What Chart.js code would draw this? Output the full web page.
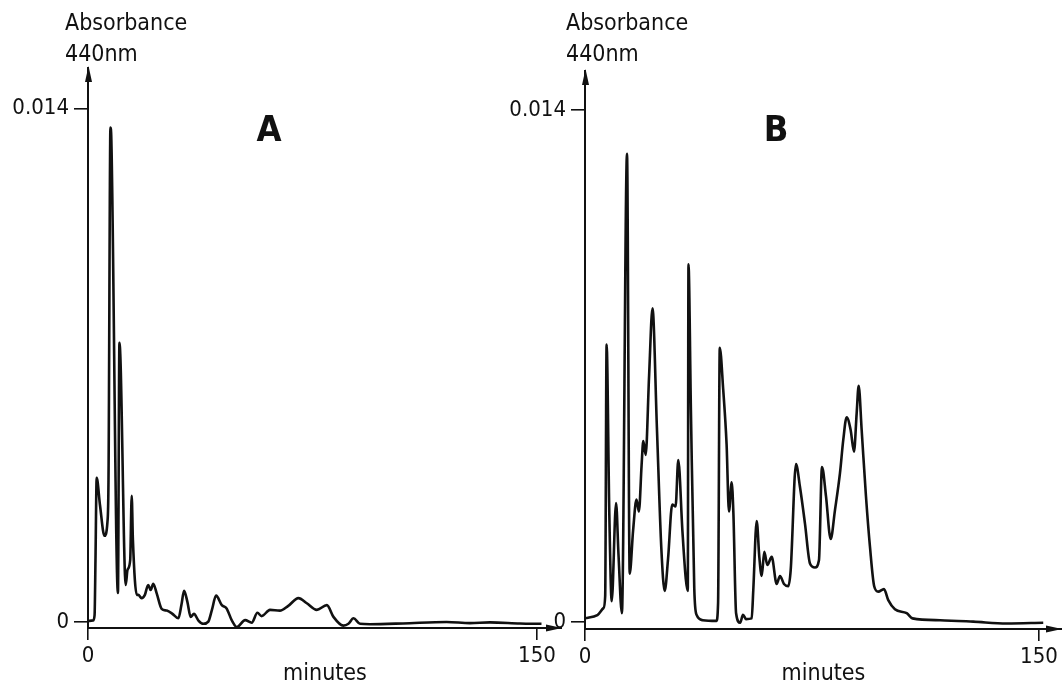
<!DOCTYPE html>
<html>
<head>
<meta charset="utf-8">
<title>Absorbance 440nm</title>
<script src="https://cdn.jsdelivr.net/npm/chart.js@4.4.1/dist/chart.umd.min.js"></script>
<style>
  html, body { margin: 0; padding: 0; background: #fff; }
  #wrap { position: relative; width: 1062px; height: 686px; overflow: hidden; }
  canvas { position: absolute; top: 0; }
  #chartA { left: 0; }
  #chartB { left: 498px; }
</style>
</head>
<body>
<div id="wrap">
  <canvas id="chartA" width="562" height="686"></canvas>
  <canvas id="chartB" width="564" height="686"></canvas>
</div>
<script>
// values (minutes, absorbance at 440 nm)
const timesA = [0, 1.7, 2.2, 2.5, 2.9, 4.0, 5.5, 6.5, 6.85, 7.5, 7.8, 10.0, 10.5, 10.85, 12.6, 13.2, 14.1, 14.6, 15.0, 16.3,
  16.8, 17.9, 19.0, 20.1, 20.95, 21.8, 22.95, 24.6, 26.3, 28.1, 30.2, 31.2, 32.1, 33.2, 34.3, 35.4, 36.9, 38.5, 40.2, 41.4,
  42.8, 44.7, 46.3, 48.0, 49.7, 52.5, 54.7, 56.6, 58.0, 60.8, 64.1, 66.9, 70.3, 73.1, 76.4, 79.8, 82.0, 85.3, 87.0, 88.7,
  90.9, 94.2, 105.2, 119.8, 127.6, 134.3, 144.3, 151.5];
const absA = [0.00003, 0.00004, 0.00019, 0.00169, 0.00393, 0.00319, 0.00235, 0.00273, 0.00388, 0.01348, 0.01315, 0.00079,
  0.00761, 0.00715, 0.00101, 0.00142, 0.00169, 0.00344, 0.00224, 0.00074, 0.00074, 0.00065, 0.00074, 0.00101, 0.00087,
  0.00104, 0.00078, 0.00036, 0.00031, 0.00023, 0.0001, 0.00046, 0.00085, 0.00055, 0.00014, 0.00022, 0.00004, -0.00005,
  0.00001, 0.00033, 0.00072, 0.00046, 0.00037, 0.00005, -0.00014, 0.00005, -0.00002, 0.00025, 0.00016, 0.00033, 0.00031,
  0.00044, 0.00065, 0.00051, 0.00033, 0.00046, 0.00014, -0.0001, -0.00005, 0.0001, -0.00005, -0.00006, -0.00004, 0,
  -0.00003, -0.00001, -0.00004, -0.00005];

const timesB = [0, 4.1, 6.1, 6.67, 7.14, 8.03, 8.82, 10.27, 11.07, 12.19, 13.88, 14.77, 15.89, 17.01, 17.81, 18.7, 19.26,
  20.05, 21.18, 22.3, 23.75, 25.21, 26.33, 27.45, 28.81, 29.93, 30.82, 32.18, 33.3, 33.96, 34.19, 34.99, 36.11, 36.9, 38.92,
  43.41, 43.97, 44.53, 45.66, 46.78, 47.57, 48.46, 49.03, 49.92, 51.27, 52.2, 53.2, 55.07, 55.6, 56.73, 57.59, 58.38, 59.24,
  60.23, 61.68, 63.33, 64.42, 65.74, 67.16, 67.96, 69.71, 71.03, 72.68, 74.33, 75.98, 77.3, 78.3, 79.62, 81.17, 82.59, 84.24,
  85.33, 86.45, 87.77, 88.87, 89.76, 90.42, 91.41, 92.83, 94.15, 95.57, 96.89, 98.78, 100.2, 102.4, 106.3, 108.2, 117.3,
  128.3, 139.3, 151.4];
const absB = [0.0001, 0.00019, 0.00038, 0.00071, 0.00759, 0.00297, 0.00057, 0.00325, 0.00184, 0.00024, 0.0128, 0.00132,
  0.0025, 0.00335, 0.00302, 0.00429, 0.00495, 0.00457, 0.00674, 0.00858, 0.00533, 0.00203, 0.00085, 0.00174, 0.00321,
  0.00316, 0.00443, 0.0025, 0.00118, 0.00085, 0.00978, 0.0058, 0.0009, 0.00019, 0.00005, 0.00003, 0.00052, 0.0075, 0.00636,
  0.00486, 0.00302, 0.00382, 0.00297, 0.00024, -0.00002, 0.0002, 0.00008, 0.0001, 0.00087, 0.00276, 0.00178, 0.00126,
  0.00192, 0.00156, 0.00178, 0.00104, 0.00126, 0.00104, 0.00098, 0.00142, 0.00432, 0.00369, 0.00269, 0.0016, 0.00149,
  0.00169, 0.00424, 0.00344, 0.00227, 0.00306, 0.00407, 0.00498, 0.0056, 0.00525, 0.00466, 0.00571, 0.00646, 0.00525,
  0.00344, 0.00206, 0.00097, 0.00083, 0.0009, 0.0006, 0.00035, 0.00024, 0.0001, 0.00005, 0.00001, -0.00004, -0.00002];

const xTicks = [0, 150];
const xTickLabels = ["0", "150"];
const yTicks = [0, 0.014];
const yTickLabels = ["0", "0.014"];
const yTitleLines = ["Absorbance", "440nm"];
const xTitle = "minutes";

const FONT = "'DejaVu Sans Condensed', 'DejaVu Sans', sans-serif";
const INK = "#111";

// arrows on the axes, axis title and panel letter
const panelDeco = {
  id: "panelDeco",
  afterDraw(chart, args, o) {
    const { ctx, chartArea: { left, top, right, bottom } } = chart;
    ctx.save();
    ctx.fillStyle = INK;
    ctx.beginPath();
    ctx.moveTo(left + 0.5, top - 2);
    ctx.lineTo(left - 3, top + 14);
    ctx.lineTo(left + 4, top + 14);
    ctx.closePath();
    ctx.fill();
    ctx.beginPath();
    ctx.moveTo(right, bottom);
    ctx.lineTo(right - 16, bottom - 3.5);
    ctx.lineTo(right - 16, bottom + 3.5);
    ctx.closePath();
    ctx.fill();

    ctx.font = "23px " + FONT;
    ctx.textAlign = "left";
    ctx.textBaseline = "alphabetic";
    ctx.fillText(yTitleLines[0], left + o.titleDx, 30);
    ctx.fillText(yTitleLines[1], left + o.titleDx, 61);

    ctx.font = "bold 36px " + FONT;
    ctx.textAlign = "center";
    ctx.fillText(o.letter, left + o.letterDx, 141);
    ctx.restore();
  }
};

function buildChart(id, times, values, cfg) {
  const points = times.map((t, i) => ({ x: t, y: values[i] }));
  return new Chart(document.getElementById(id), {
    type: "line",
    data: {
      datasets: [{
        data: points,
        borderColor: INK,
        borderWidth: 2.6,
        pointRadius: 0,
        fill: false,
        cubicInterpolationMode: "monotone"
      }]
    },
    options: {
      responsive: false,
      animation: false,
      layout: { padding: { top: cfg.top, left: 0, right: 0, bottom: 0 } },
      plugins: {
        legend: { display: false },
        tooltip: { enabled: false },
        panelDeco: { letter: cfg.letter, letterDx: cfg.letterDx, titleDx: cfg.titleDx }
      },
      scales: {
        x: {
          type: "linear",
          min: 0,
          max: cfg.xMax,
          afterBuildTicks: s => { s.ticks = xTicks.map(v => ({ value: v })); },
          afterFit: s => { s.height = cfg.xHeight; },
          ticks: {
            autoSkip: false,
            maxRotation: 0,
            padding: 3,
            color: INK,
            font: { family: FONT, size: 22 },
            callback: v => xTickLabels[xTicks.indexOf(v)]
          },
          grid: { drawOnChartArea: false, tickLength: 12, color: INK, lineWidth: 1.6 },
          border: { color: INK, width: 2 },
          title: {
            display: true,
            text: xTitle,
            color: INK,
            font: { family: FONT, size: 23, lineHeight: 1 },
            padding: { top: 0, bottom: 0 }
          }
        },
        y: {
          type: "linear",
          min: cfg.yMin,
          max: cfg.yMax,
          afterBuildTicks: s => { s.ticks = yTicks.map(v => ({ value: v })); },
          afterFit: s => { s.width = cfg.yWidth; },
          ticks: {
            autoSkip: false,
            padding: 5,
            color: INK,
            font: { family: FONT, size: 22 },
            callback: v => yTickLabels[yTicks.indexOf(v)]
          },
          grid: { drawOnChartArea: false, tickLength: 14, color: INK, lineWidth: 1.6 },
          border: { color: INK, width: 2 }
        }
      }
    },
    plugins: [panelDeco]
  });
}

buildChart("chartA", timesA, absA, {
  letter: "A", letterDx: 181, titleDx: -23,
  top: 68, xHeight: 58, yWidth: 88,
  xMax: 158.35, yMin: -0.000164, yMax: 0.015104
});
buildChart("chartB", timesB, absB, {
  letter: "B", letterDx: 191, titleDx: -19,
  top: 71, xHeight: 57, yWidth: 87,
  xMax: 157.6, yMin: -0.000191, yMax: 0.015067
});
</script>
</body>
</html>
